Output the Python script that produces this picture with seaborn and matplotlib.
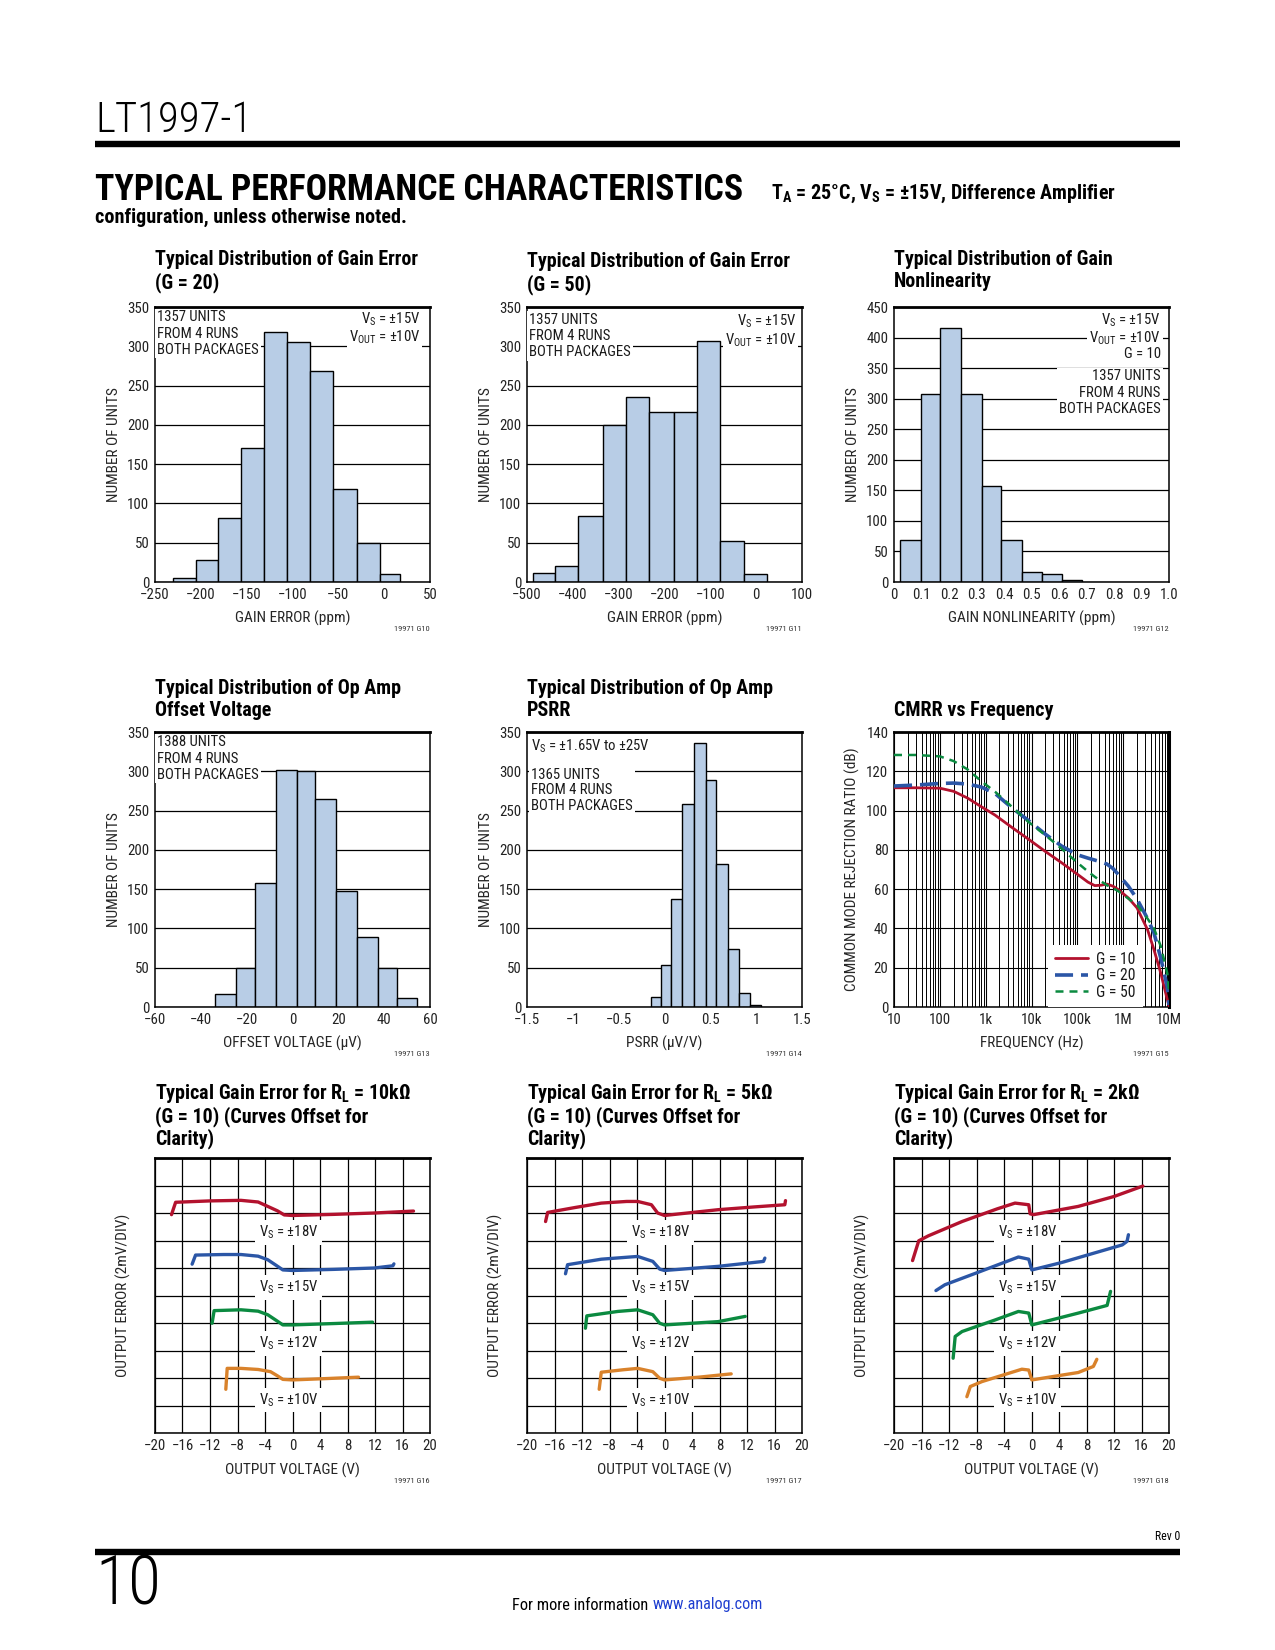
import matplotlib
matplotlib.use("Agg")
import matplotlib.pyplot as plt
import seaborn as sns
import numpy as np
from matplotlib import font_manager
from matplotlib.lines import Line2D
from matplotlib.ticker import FixedLocator, LogLocator, NullFormatter

# ---------------- data ----------------
# Typical distribution of gain error, G = 20
g20_edges = [-230, -205, -181, -156, -131, -106, -81, -56, -30, -5, 17]
g20_counts = [5, 28, 82, 170, 318, 305, 268, 119, 50, 10]

# Typical distribution of gain error, G = 50
g50_edges = [-488, -438, -388, -334, -284, -233, -180, -130, -80, -27, 24]
g50_counts = [12, 20, 84, 200, 236, 216, 216, 307, 52, 10]

# Typical distribution of gain nonlinearity
nl_edges = [0.023, 0.099, 0.168, 0.245, 0.319, 0.388, 0.464, 0.539, 0.610, 0.682]
nl_counts = [68, 307, 416, 307, 157, 68, 16, 13, 3]

# Typical distribution of op amp offset voltage
vos_edges = [-33.8, -24.7, -16.4, -7.1, 2.1, 9.8, 19.1, 28.3, 37.3, 45.6, 54.5]
vos_counts = [16, 50, 158, 302, 300, 265, 148, 89, 50, 11]

# Typical distribution of op amp PSRR
psrr_edges = [-0.144, -0.035, 0.075, 0.195, 0.325, 0.449, 0.558, 0.689, 0.809, 0.929, 1.056]
psrr_counts = [13, 53, 138, 258, 336, 289, 182, 74, 18, 3]

# CMRR vs frequency
cmrr_freq = [10, 30, 100, 200, 400, 800, 1.6e3, 3.7e3, 8.5e3, 2e4, 4.5e4, 1e5,
             1.7e5, 2.4e5, 3.3e5, 4.4e5, 6e5, 7.8e5, 1.3e6, 2e6, 3.4e6, 4.7e6,
             6.6e6, 9.2e6, 1e7]
cmrr_g10 = [111.6, 111.6, 111.4, 109.8, 106.4, 102.0, 97.7, 91.5, 85.5, 79.2,
            73.5, 67.6, 63.6, 61.8, 62.0, 62.6, 61.5, 59.8, 55.5, 50.5, 39.4,
            29.2, 17.3, 3.7, 0.5]
cmrr_g20 = [112.5, 113.0, 113.8, 114.0, 113.5, 112.0, 108.7, 101.5, 95.0, 88.0,
            82.0, 77.5, 75.8, 74.8, 73.8, 72.8, 70.5, 67.5, 61.5, 55.0, 45.0,
            37.7, 25.0, 10.0, 1.0]
cmrr_g50 = [128.3, 128.3, 127.6, 125.2, 121.0, 115.0, 109.6, 102.0, 94.3, 87.5,
            80.7, 73.5, 69.0, 66.3, 64.0, 62.0, 60.5, 59.0, 55.2, 52.0, 45.0,
            40.0, 31.0, 17.0, 8.0]
cmrr_labels = ["G = 10", "G = 20", "G = 50"]

# Typical gain error vs output voltage (y in divisions of 2mV, curves offset)
vs_labels = ["±18V", "±15V", "±12V", "±10V"]
vs_label_y = [7.3, 5.3, 3.25, 1.2]

rl10k_x = [
    [-17.6, -17.0, -12.0, -7.5, -5.0, -3.6, -2.2, -1.2, 0.0, 6.0, 11.9, 17.6],
    [-14.6, -14.1, -10.0, -7.5, -5.0, -3.6, -2.4, -1.4, 0.0, 6.0, 11.9, 14.6, 14.75],
    [-11.7, -11.4, -7.5, -5.0, -3.6, -2.4, -1.4, 0.0, 6.0, 11.65],
    [-9.7, -9.5, -7.5, -5.0, -3.2, -2.2, -1.4, 0.0, 5.0, 9.6],
]
rl10k_y = [
    [7.94, 8.39, 8.44, 8.46, 8.40, 8.24, 8.08, 7.93, 7.91, 7.95, 8.00, 8.07],
    [6.14, 6.47, 6.49, 6.49, 6.43, 6.30, 6.10, 5.93, 5.91, 5.95, 6.00, 6.08, 6.15],
    [3.99, 4.45, 4.48, 4.43, 4.30, 4.10, 3.93, 3.93, 3.98, 4.03],
    [1.59, 2.35, 2.35, 2.31, 2.23, 2.08, 1.95, 1.93, 1.98, 2.03],
]

rl5k_x = [
    [-17.3, -17.0, -13.0, -9.2, -5.5, -3.9, -1.9, -1.0, 0.0, 7.8, 13.0, 17.5, 17.6],
    [-14.4, -14.1, -9.2, -5.0, -3.9, -1.7, -0.7, 0.0, 7.8, 14.4, 14.6],
    [-11.5, -11.3, -6.8, -3.9, -1.7, -0.7, 0.0, 7.8, 11.75],
    [-9.5, -9.2, -6.0, -3.9, -1.7, -0.7, 0.0, 5.0, 9.7],
]
rl5k_y = [
    [7.69, 8.02, 8.20, 8.36, 8.42, 8.42, 8.30, 8.00, 7.91, 8.12, 8.22, 8.30, 8.45],
    [5.79, 6.12, 6.32, 6.40, 6.42, 6.24, 5.96, 5.91, 6.06, 6.24, 6.36],
    [3.81, 4.26, 4.42, 4.48, 4.30, 3.99, 3.93, 4.05, 4.24],
    [1.59, 2.21, 2.30, 2.35, 2.23, 1.99, 1.93, 2.03, 2.15],
]

rl2k_x = [
    [-17.3, -16.4, -15.0, -10.1, -5.0, -2.4, -0.4, -0.2, 0.3, 6.8, 12.0, 16.2],
    [-13.9, -12.6, -7.7, -1.9, -0.4, 0.05, 4.4, 13.2, 13.9, 14.1],
    [-11.4, -11.1, -10.1, -5.3, -1.9, -0.4, 0.05, 6.8, 11.0, 11.5],
    [-9.4, -8.9, -7.2, -1.4, -0.4, 0.05, 6.8, 9.0, 9.5],
]
rl2k_y = [
    [6.27, 6.99, 7.17, 7.69, 8.15, 8.36, 8.30, 7.97, 7.94, 8.24, 8.60, 8.98],
    [5.18, 5.39, 5.85, 6.40, 6.32, 5.93, 6.20, 6.84, 6.97, 7.21],
    [2.72, 3.51, 3.69, 4.11, 4.42, 4.36, 3.93, 4.36, 4.64, 5.15],
    [1.32, 1.69, 1.87, 2.32, 2.29, 1.93, 2.20, 2.42, 2.68],
]

# ---------------- styling ----------------
BAR = "#b8cde6"
RED = "#b3122e"
BLUE = "#2b56a6"
GREEN = "#0b8a40"
ORANGE = "#d9822b"
CURVE_COLORS = [RED, BLUE, GREEN, ORANGE]


def pick_family(candidates, default):
    for fam in candidates:
        try:
            font_manager.findfont(font_manager.FontProperties(family=fam),
                                  fallback_to_default=False)
            return fam
        except ValueError:
            continue
    return default


sns.set_theme(style="white")
SANS = pick_family(["Liberation Sans", "Roboto"], "DejaVu Sans")
NARROW = pick_family(["Liberation Sans Narrow", "Roboto Condensed",
                      "DejaVu Sans Condensed", "Noto Sans Condensed"], "Roboto")
plt.rcParams["font.family"] = [NARROW, SANS, "DejaVu Sans"]
plt.rcParams["axes.edgecolor"] = "black"
plt.rcParams["text.color"] = "#1a1a1a"

W, H = 1275, 1650
S = 275
COLS = [155, 527, 894]
ROWS = [307, 732, 1158]

fig = plt.figure(figsize=(W / 100, H / 100), dpi=100)
fig.patch.set_facecolor("white")


def fx(x):
    return x / W


def fy(y):
    return 1 - y / H


def make_ax(col, row):
    l, t = COLS[col], ROWS[row]
    return fig.add_axes([fx(l), fy(t + S), S / W, S / H])


def fit_width(txt, width_px):
    r = fig.canvas.get_renderer()
    w = txt.get_window_extent(r).width
    txt.set_fontsize(txt.get_fontsize() * width_px / w)
    return txt.get_fontsize()


def probe_size(s, width_px, **kw):
    p = fig.text(0, 0, s, fontsize=10, **kw)
    size = fit_width(p, width_px)
    p.remove()
    return size


NOTE = probe_size("1357 UNITS", 69)
TICK = probe_size("350", 22)
LABEL = probe_size("NUMBER OF UNITS", 116)
LEG = probe_size("G = 10", 39)


def style_axes(ax):
    for side in ["left", "right", "bottom"]:
        ax.spines[side].set_linewidth(1.1)
        ax.spines[side].set_color("black")
    ax.spines["top"].set_linewidth(2.0)
    ax.tick_params(length=0, labelsize=TICK, colors="#222222", pad=4)
    ax.set_axisbelow(True)


def note(ax, x, y, s, ha="left", va="top", ls=1.2):
    ax.text(x, y, s, transform=ax.transAxes, ha=ha, va=va, fontsize=NOTE,
            linespacing=ls, zorder=4,
            bbox=dict(boxstyle="square,pad=0.12", fc="white", ec="none"))


def code(ax, row, s):
    ybase = [629, 1054, 1481][row]
    x_right = ax.get_position().x1
    fig.text(x_right, fy(ybase), s, ha="right", va="center", fontsize=6,
             color="#333333")


def hist_panel(ax, edges, counts, xlim, xticks, xticklabels, ymax, xlabel):
    centers = [(a + b) / 2 for a, b in zip(edges[:-1], edges[1:])]
    sns.histplot(x=centers, weights=counts, bins=list(edges), ax=ax, color=BAR,
                 alpha=1, edgecolor="black", linewidth=1.0, zorder=2)
    ax.set_xlim(*xlim)
    ax.set_ylim(0, ymax)
    ax.set_xticks(list(xticks))
    ax.set_xticklabels(xticklabels)
    ax.set_yticks(np.arange(0, ymax + 1, 50))
    ax.yaxis.grid(True, color="black", linewidth=0.9)
    ax.xaxis.grid(False)
    style_axes(ax)
    ax.set_ylabel("NUMBER OF UNITS", fontsize=LABEL)
    ax.set_xlabel(xlabel, fontsize=LABEL)
    ax.yaxis.set_label_coords(-34 / S, 0.5)
    ax.xaxis.set_label_coords(0.5, -29 / S)


def minus(vals, fmt="{:g}"):
    return [fmt.format(v).replace("-", "\u2212") for v in vals]


# ---------------- header ----------------
t = fig.text(fx(95), fy(121), "LT1997-1", ha="left", va="center",
             fontsize=30, weight="light", color="black")
fit_width(t, 157)
fig.add_artist(Line2D([fx(95), fx(1180)], [fy(144), fy(144)], lw=4.6,
                      color="black", solid_capstyle="butt"))
t = fig.text(fx(95), fy(190), "TYPICAL PERFORMANCE CHARACTERISTICS", ha="left",
             va="center", fontsize=26, weight="heavy", color="black")
fit_width(t, 648)
t = fig.text(fx(771), fy(194),
             r"$\mathregular{T_A}$ = 25°C, $\mathregular{V_S}$ = ±15V, Difference Amplifier",
             ha="left", va="center", fontsize=13, weight="bold", color="black")
fit_width(t, 344)
t = fig.text(fx(95), fy(217), "configuration, unless otherwise noted.",
             ha="left", va="center", fontsize=13, weight="bold", color="black")
fit_width(t, 310)

# ---------------- chart titles ----------------
titles = [
    (0, 0, "Typical Distribution of Gain Error\n(G = 20)"),
    (1, 0, "Typical Distribution of Gain Error\n(G = 50)"),
    (2, 0, "Typical Distribution of Gain\nNonlinearity"),
    (0, 1, "Typical Distribution of Op Amp\nOffset Voltage"),
    (1, 1, "Typical Distribution of Op Amp\nPSRR"),
    (2, 1, "CMRR vs Frequency"),
    (0, 2, "Typical Gain Error for $\\mathregular{R_L}$ = 10kΩ\n(G = 10) (Curves Offset for\nClarity)"),
    (1, 2, "Typical Gain Error for $\\mathregular{R_L}$ = 5kΩ\n(G = 10) (Curves Offset for\nClarity)"),
    (2, 2, "Typical Gain Error for $\\mathregular{R_L}$ = 2kΩ\n(G = 10) (Curves Offset for\nClarity)"),
]
title_size = probe_size("Typical Distribution of Gain Error", 263, weight="bold")
title_top = {(0, 0): 250, (1, 0): 252, (2, 0): 250, (0, 1): 679, (1, 1): 679,
             (2, 1): 701, (0, 2): 1082, (1, 2): 1082, (2, 2): 1082}
for col, row, s in titles:
    fig.text(fx(COLS[col]), fy(title_top[(col, row)]), s, ha="left", va="top",
             fontsize=title_size, weight="bold", color="black",
             linespacing=1.2 if row < 2 else 1.08)

# ---------------- row 1 ----------------
ax = make_ax(0, 0)
hist_panel(ax, g20_edges, g20_counts, (-250, 50), range(-250, 51, 50),
           minus(range(-250, 51, 50)), 350, "GAIN ERROR (ppm)")
note(ax, 0.008, 0.988, "1357 UNITS\nFROM 4 RUNS\nBOTH PACKAGES")
note(ax, 0.965, 0.988, "$\\mathregular{V_S}$ = ±15V\n$\\mathregular{V_{OUT}}$ = ±10V", ha="right", ls=1.05)
code(ax, 0, "19971 G10")

ax = make_ax(1, 0)
hist_panel(ax, g50_edges, g50_counts, (-500, 100), range(-500, 101, 100),
           minus(range(-500, 101, 100)), 350, "GAIN ERROR (ppm)")
note(ax, 0.008, 0.978, "1357 UNITS\nFROM 4 RUNS\nBOTH PACKAGES")
note(ax, 0.98, 0.978, "$\\mathregular{V_S}$ = ±15V\n$\\mathregular{V_{OUT}}$ = ±10V", ha="right", ls=1.05)
code(ax, 0, "19971 G11")

ax = make_ax(2, 0)
nl_ticks = [round(0.1 * i, 1) for i in range(11)]
hist_panel(ax, nl_edges, nl_counts, (0, 1.0), nl_ticks,
           ["0"] + ["{:.1f}".format(v) for v in nl_ticks[1:]], 450,
           "GAIN NONLINEARITY (ppm)")
note(ax, 0.97, 0.982, "$\\mathregular{V_S}$ = ±15V\n$\\mathregular{V_{OUT}}$ = ±10V\nG = 10", ha="right", ls=1.0)
note(ax, 0.97, 0.773, "1357 UNITS\nFROM 4 RUNS\nBOTH PACKAGES", ha="right", ls=1.22)
code(ax, 0, "19971 G12")

# ---------------- row 2 ----------------
ax = make_ax(0, 1)
hist_panel(ax, vos_edges, vos_counts, (-60, 60), range(-60, 61, 20),
           minus(range(-60, 61, 20)), 350, "OFFSET VOLTAGE (μV)")
note(ax, 0.008, 0.988, "1388 UNITS\nFROM 4 RUNS\nBOTH PACKAGES")
code(ax, 1, "19971 G13")

ax = make_ax(1, 1)
psrr_ticks = [-1.5, -1, -0.5, 0, 0.5, 1, 1.5]
hist_panel(ax, psrr_edges, psrr_counts, (-1.5, 1.5), psrr_ticks,
           minus(psrr_ticks), 350, "PSRR (μV/V)")
note(ax, 0.015, 0.978, "$\\mathregular{V_S}$ = ±1.65V to ±25V")
note(ax, 0.015, 0.87, "1365 UNITS\nFROM 4 RUNS\nBOTH PACKAGES", ls=1.15)
code(ax, 1, "19971 G14")

# CMRR vs frequency
ax = make_ax(2, 1)
styles = [dict(color=RED, lw=2.0),
          dict(color=BLUE, lw=2.6, dashes=(5, 2.2)),
          dict(color=GREEN, lw=1.8, dashes=(3.2, 2.4))]
for vals, lab, st in zip([cmrr_g10, cmrr_g20, cmrr_g50], cmrr_labels, styles):
    line_kw = dict(st)
    dashes = line_kw.pop("dashes", None)
    sns.lineplot(x=cmrr_freq, y=vals, ax=ax, label=lab, sort=False,
                 estimator=None, zorder=3, **line_kw)
    if dashes is not None:
        ax.lines[-1].set_dashes(dashes)
ax.set_xscale("log")
ax.set_xlim(10, 1e7)
ax.set_ylim(0, 140)
ax.set_yticks(range(0, 141, 20))
ax.xaxis.set_major_locator(FixedLocator([10, 100, 1e3, 1e4, 1e5, 1e6, 1e7]))
ax.set_xticklabels(["10", "100", "1k", "10k", "100k", "1M", "10M"])
ax.xaxis.set_minor_locator(LogLocator(base=10, subs=np.arange(2, 10), numticks=20))
ax.xaxis.set_minor_formatter(NullFormatter())
ax.grid(True, which="major", color="black", linewidth=0.8)
ax.grid(True, which="minor", axis="x", color="black", linewidth=0.7)
style_axes(ax)
ax.tick_params(which="minor", length=0)
ax.spines["right"].set_linewidth(2.2)
ax.set_ylabel("COMMON MODE REJECTION RATIO (dB)", fontsize=LABEL)
ax.set_xlabel("FREQUENCY (Hz)", fontsize=LABEL)
ax.yaxis.set_label_coords(-34 / S, 0.5)
ax.xaxis.set_label_coords(0.5, -29 / S)
leg = ax.legend(loc="lower right", bbox_to_anchor=(0.905, 0.0), frameon=True,
                fontsize=LEG, handlelength=2.1, handletextpad=0.55,
                borderpad=0.45, labelspacing=0.1, fancybox=False,
                borderaxespad=0)
leg.get_frame().set_edgecolor("none")
leg.get_frame().set_facecolor("white")
leg.get_frame().set_alpha(1)
leg.set_zorder(5)
code(ax, 1, "19971 G15")

# ---------------- row 3 ----------------
for col, (xs, ys, tag) in enumerate([(rl10k_x, rl10k_y, "G16"),
                                     (rl5k_x, rl5k_y, "G17"),
                                     (rl2k_x, rl2k_y, "G18")]):
    ax = make_ax(col, 2)
    for cx, cy, c in zip(xs, ys, CURVE_COLORS):
        sns.lineplot(x=cx, y=cy, ax=ax, color=c, lw=2.4, sort=False,
                     estimator=None, zorder=3)
    for lab, ly in zip(vs_labels, vs_label_y):
        ax.text(-0.6, ly, "$\\mathregular{V_S}$ = " + lab, ha="center",
                va="center", fontsize=NOTE, zorder=4,
                bbox=dict(boxstyle="square,pad=0.25", fc="white", ec="none"))
    ax.set_xlim(-20, 20)
    ax.set_ylim(0, 10)
    ax.set_xticks(range(-20, 21, 4))
    ax.set_xticklabels(minus(range(-20, 21, 4)))
    ax.set_yticks(range(0, 11))
    ax.set_yticklabels([])
    ax.grid(True, color="black", linewidth=0.9)
    style_axes(ax)
    ax.set_ylabel("OUTPUT ERROR (2mV/DIV)", fontsize=LABEL)
    ax.set_xlabel("OUTPUT VOLTAGE (V)", fontsize=LABEL)
    ax.yaxis.set_label_coords(-24 / S, 0.5)
    ax.xaxis.set_label_coords(0.5, -30 / S)
    code(ax, 2, "19971 " + tag)

# ---------------- footer ----------------
fig.text(fx(1180), fy(1537), "Rev 0", ha="right", va="center", fontsize=8.5,
         color="black")
fig.add_artist(Line2D([fx(95), fx(1180)], [fy(1552), fy(1552)], lw=4.6,
                      color="black", solid_capstyle="butt"))
t = fig.text(fx(95), fy(1586), "10", ha="left", va="center", fontsize=44,
             weight="light", color="black")
fit_width(t, 66)
t = fig.text(fx(512), fy(1605), "For more information", ha="left", va="center",
             fontsize=11, color="black")
fit_width(t, 137)
t = fig.text(fx(653), fy(1605), "www.analog.com", ha="left", va="center",
             fontsize=11, color="#1f3fd0")
fit_width(t, 111)

fig.savefig("out.png", dpi=100, facecolor="white")
